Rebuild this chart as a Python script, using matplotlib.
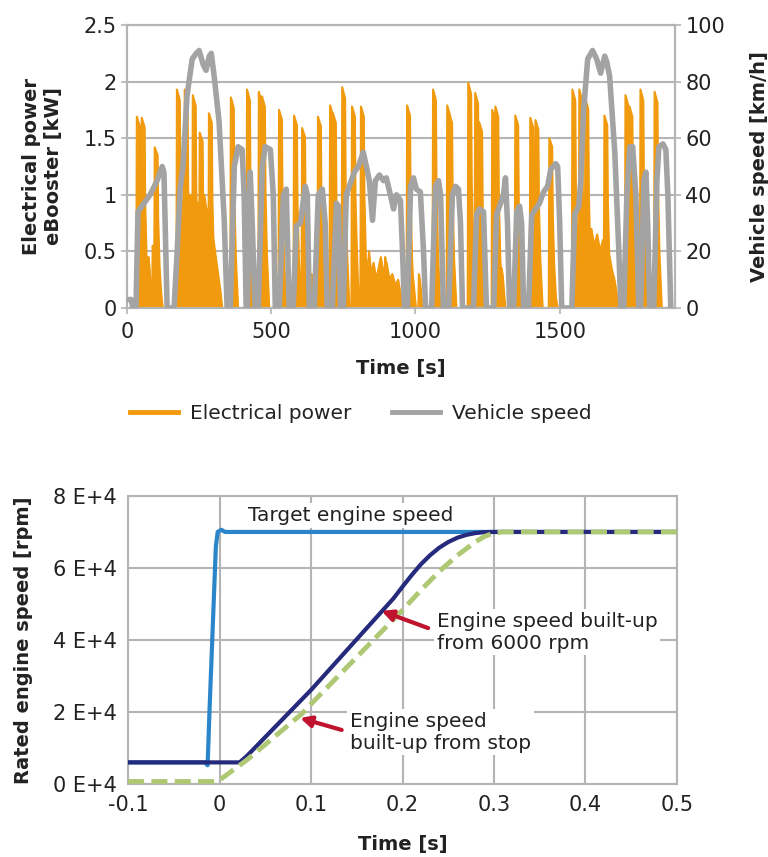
import numpy as np
import matplotlib
matplotlib.use("Agg")
import matplotlib.pyplot as plt
from matplotlib.lines import Line2D

plt.rcParams['font.family'] = ['DejaVu Sans']

# ---------------- data: top chart ----------------
speed_t = [0, 14, 21, 31, 38, 52, 80, 104, 115, 122, 128, 132, 139, 163, 174, 184, 194, 208, 226, 240,
           250, 264, 274, 285, 292, 302, 319, 337, 347, 358, 372, 385, 399, 406, 413, 417, 427, 434, 444,
           455, 469, 479, 497, 507, 514, 528, 542, 552, 562, 576, 587, 601, 618, 625, 632, 649, 663, 677,
           687, 694, 712, 726, 733, 740, 750, 760, 774, 788, 802, 819, 830, 840, 851, 861, 875, 889, 899,
           913, 924, 934, 948, 955, 962, 972, 983, 993, 1003, 1017, 1028, 1035, 1056, 1069, 1080, 1087,
           1097, 1115, 1128, 1139, 1149, 1156, 1163, 1174, 1201, 1212, 1222, 1236, 1246, 1271, 1281, 1295,
           1305, 1312, 1319, 1326, 1340, 1351, 1361, 1368, 1375, 1392, 1403, 1417, 1430, 1444, 1458, 1469,
           1486, 1493, 1500, 1507, 1542, 1552, 1566, 1573, 1583, 1597, 1614, 1628, 1642, 1656, 1663, 1673,
           1691, 1705, 1712, 1722, 1733, 1743, 1753, 1764, 1774, 1781, 1792, 1799, 1805, 1812, 1826, 1837,
           1844, 1858, 1868, 1875, 1885]
speed_v = [3, 3, 0, 0, 34, 36, 40, 45, 48, 50, 48, 30, 0, 0, 20, 42, 50, 75, 88, 90,
           91, 86, 84, 89, 90, 82, 66, 31, 0, 0, 50, 57, 56, 40, 0, 0, 48, 30, 0,
           0, 50, 57, 56, 40, 0, 0, 40, 42, 0, 0, 29, 30, 43, 40, 0, 0, 40, 42,
           30, 0, 0, 37, 36, 0, 0, 40, 44, 48, 50, 55, 50, 45, 31, 45, 47, 45, 46,
           40, 35, 40, 38, 20, 0, 0, 43, 46, 42, 41, 20, 0, 0, 43, 45, 40,
           0, 0, 40, 43, 42, 30, 0, 0, 0, 33, 35, 34, 0, 0, 33, 37,
           40, 46, 30, 0, 0, 34, 36, 30, 0, 0, 33, 35, 37, 41, 43, 49,
           51, 50, 30, 0, 0, 33, 36, 45, 70, 88, 91, 88, 83, 89, 87, 82,
           55, 20, 0, 0, 40, 57, 57, 40, 0, 0, 45, 48, 30, 0, 0, 45,
           57, 58, 56, 40, 0]

# main eBooster peaks
spike_t = [35, 52, 97, 174, 201, 229, 253, 285, 361, 417, 458, 469, 528, 580, 608, 663, 705, 715,
           747, 781, 812, 972, 1062, 1111, 1118, 1184, 1208, 1222, 1267, 1278, 1347, 1399, 1417,
           1465, 1545, 1569, 1590, 1656, 1729, 1743, 1781, 1830]
spike_p = [1.69, 1.68, 1.42, 1.93, 1.93, 1.88, 1.55, 1.72, 1.86, 1.93, 1.91, 1.87, 1.75, 1.70, 1.59,
           1.69, 1.79, 1.72, 1.95, 1.78, 1.78, 1.79, 1.93, 1.79, 1.72, 1.99, 1.90, 1.64, 1.75, 1.78,
           1.70, 1.68, 1.66, 1.50, 1.93, 1.93, 1.85, 1.70, 1.88, 1.78, 1.93, 1.91]

# smaller peaks
minor_t = [75, 90, 112, 420, 470, 540, 612, 640, 668, 720, 792, 815, 840, 896, 990, 1013, 1068,
           1120, 1230, 1283, 1300, 1352, 1405, 1425, 1470, 1482, 1660, 1735, 1748, 1785, 1835]
minor_p = [0.45, 0.55, 0.3, 0.5, 0.6, 0.4, 0.35, 0.3, 0.45, 0.5, 0.84, 0.6, 0.5, 0.45, 0.3, 0.3, 0.4,
           0.35, 0.3, 0.4, 0.35, 0.3, 0.7, 0.5, 0.35, 0.15, 0.45, 0.6, 0.5, 0.45, 0.4]

# low-level power during longer high-speed stretches
base_t = [0, 178, 182, 186, 192, 198, 205, 212, 220, 228, 236, 244, 252, 260, 268, 276, 285, 292,
          300, 308, 316, 324, 330, 825, 830, 838, 846, 855, 864, 872, 880, 890, 900, 910, 920, 930,
          940, 950, 958, 1548, 1552, 1556, 1562, 1570, 1578, 1586, 1594, 1602, 1610, 1620, 1630,
          1640, 1650, 1660, 1670, 1680, 1690, 1700, 1705, 1900]
base_p = [0, 0, 0.6, 1.0, 0.8, 1.1, 0.9, 0.7, 1.0, 0.85, 1.05, 0.9, 0.95, 0.8, 1.0, 0.85, 0.9, 0.7,
          0.6, 0.45, 0.3, 0.15, 0, 0, 0.3, 0.45, 0.3, 0.4, 0.25, 0.35, 0.45, 0.3, 0.4, 0.25, 0.3, 0.2,
          0.25, 0.1, 0, 0, 0.5, 0.6, 0.7, 0.55, 0.75, 1.0, 0.9, 0.6, 0.7, 0.55, 0.65,
          0.5, 0.6, 0.45, 0.5, 0.35, 0.25, 0.1, 0, 0]

# ---------------- data: bottom chart ----------------
target_t = [-0.1, -0.016, -0.013, -0.011, -0.004, -0.002, 0.002, 0.006, 0.5]
target_v = [6000, 6000, 5200, 20000, 66000, 70000, 70600, 70000, 70000]

from6000_t = [-0.1, 0.022, 0.03, 0.1, 0.19, 0.20, 0.21, 0.22, 0.23, 0.24, 0.25, 0.26, 0.27, 0.28,
              0.29, 0.30, 0.5]
from6000_v = [6000, 6000, 7800, 26100, 51500, 54800, 58000, 61000, 63500, 65600, 67200, 68400, 69200,
              69700, 69950, 70000, 70000]

fromstop_t = [-0.1, -0.002, 0.015, 0.03, 0.09, 0.1, 0.2, 0.22, 0.24, 0.26, 0.28, 0.29, 0.30, 0.31, 0.5]
fromstop_v = [700, 700, 3900, 6700, 19500, 22200, 48300, 53800, 59000, 63500, 67300, 68800, 69700,
              70000, 70000]

# ---------------- styles ----------------
ORANGE = '#f29a0e'
GRAY = '#a3a3a3'
GRID = '#b4b4b4'
TXT = '#222222'
TICK_FS = 15
LAB_FS = 14

fig = plt.figure(figsize=(7.68, 8.57), dpi=100)

# ---------------- top chart ----------------
ax1 = fig.add_axes([0.1654, 0.6406, 0.7136, 0.3302])
t_grid = np.arange(0, 1900, 1.0)
power = np.interp(t_grid, base_t, base_p)
for ts, ps in zip(spike_t, spike_p):
    sh_t = ts + np.array([-3, -1, 9, 11, 16, 24])
    sh_p = ps * np.array([0, 1, 0.95, 0.55, 0.25, 0])
    power = np.maximum(power, np.interp(t_grid, sh_t, sh_p, left=0, right=0))
for ts, ps in zip(minor_t, minor_p):
    sh_t = ts + np.array([-3, -1, 3, 8, 12])
    sh_p = ps * np.array([0, 1, 0.8, 0.3, 0])
    power = np.maximum(power, np.interp(t_grid, sh_t, sh_p, left=0, right=0))
ax1.fill_between(t_grid, power, 0, color=ORANGE, lw=0, zorder=2)
ax1.plot(t_grid, power, color=ORANGE, lw=1.5, zorder=2)
ax1.set_xlim(0, 1900)
ax1.set_ylim(0, 2.5)
ax1.set_yticks([0, 0.5, 1, 1.5, 2, 2.5])
ax1.set_yticklabels(['0', '0.5', '1', '1.5', '2', '2.5'])
ax1.set_xticks([0, 500, 1000, 1500])
ax1.yaxis.grid(True, color=GRID, lw=1.5, zorder=0)
ax1.set_axisbelow(True)
for s in ax1.spines.values():
    s.set_color(GRID)
    s.set_linewidth(1.5)
ax1.tick_params(colors=GRID, labelcolor=TXT, labelsize=TICK_FS, length=4, width=1.2)
ax1.tick_params(axis='x', pad=6)
ax1.set_xlabel('Time [s]', fontsize=LAB_FS, fontweight='bold', color=TXT, labelpad=12)
ax1.set_ylabel('Electrical power\neBooster [kW]', fontsize=LAB_FS, fontweight='bold', color=TXT,
               labelpad=15)

ax2 = ax1.twinx()
ax2.plot(speed_t, speed_v, color=GRAY, lw=4, solid_joinstyle='round', solid_capstyle='round', zorder=3)
ax2.set_ylim(0, 100)
ax2.set_yticks([0, 20, 40, 60, 80, 100])
for s in ax2.spines.values():
    s.set_color(GRID)
    s.set_linewidth(1.5)
ax2.tick_params(colors=GRID, labelcolor=TXT, labelsize=TICK_FS, length=4, width=1.2)
ax2.set_ylabel('Vehicle speed [km/h]', fontsize=LAB_FS, fontweight='bold', color=TXT, labelpad=18)

handles = [Line2D([], [], color=ORANGE, lw=3.5), Line2D([], [], color=GRAY, lw=3.5)]
fig.legend(handles, ['Electrical power', 'Vehicle speed'], loc='center', ncol=2,
           bbox_to_anchor=(0.47, 0.518), frameon=False, fontsize=14.5,
           handlelength=2.4, handletextpad=0.6, columnspacing=2.0, labelcolor=TXT)

# ---------------- bottom chart ----------------
ax3 = fig.add_axes([0.1667, 0.0852, 0.7148, 0.3361])
ax3.plot(target_t, target_v, color='#2a86c8', lw=3, zorder=3)
ax3.plot(from6000_t, from6000_v, color='#262a7c', lw=3, zorder=4)
ax3.plot(fromstop_t, fromstop_v, color='#afc874', lw=3.5, ls=(0, (3.3, 1.5)), zorder=5)
ax3.set_xlim(-0.1, 0.5)
ax3.set_ylim(0, 80000)
ax3.set_xticks([-0.1, 0, 0.1, 0.2, 0.3, 0.4, 0.5])
ax3.set_xticklabels(['-0.1', '0', '0.1', '0.2', '0.3', '0.4', '0.5'])
ax3.set_yticks([0, 20000, 40000, 60000, 80000])
ax3.set_yticklabels(['0 E+4', '2 E+4', '4 E+4', '6 E+4', '8 E+4'])
ax3.grid(True, color=GRID, lw=1.5, zorder=0)
ax3.set_axisbelow(True)
for s in ax3.spines.values():
    s.set_color(GRID)
    s.set_linewidth(1.5)
ax3.tick_params(colors=GRID, labelcolor=TXT, labelsize=TICK_FS, length=0, pad=8)
ax3.set_xlabel('Time [s]', fontsize=LAB_FS, fontweight='bold', color=TXT, labelpad=14)
ax3.set_ylabel('Rated engine speed [rpm]', fontsize=LAB_FS, fontweight='bold', color=TXT, labelpad=14)

box = dict(facecolor='white', edgecolor='none', pad=2)
ax3.text(0.031, 74500, 'Target engine speed', fontsize=14.5, color=TXT, ha='left', va='center',
         bbox=box, zorder=6)
ax3.text(0.2374, 42200, 'Engine speed built-up\nfrom 6000 rpm', fontsize=14.5, color=TXT,
         ha='left', va='center', linespacing=1.2, bbox=box, zorder=6)
ax3.text(0.1426, 14400, 'Engine speed\nbuilt-up from stop', fontsize=14.5, color=TXT,
         ha='left', va='center', linespacing=1.2, bbox=box, zorder=6)
RED = '#c0132e'
ax3.annotate('', xy=(0.177, 48050), xytext=(0.228, 43300),
             arrowprops=dict(arrowstyle='-|>', color=RED, lw=3, mutation_scale=16,
                             shrinkA=0, shrinkB=0), zorder=7)
ax3.annotate('', xy=(0.088, 18330), xytext=(0.1335, 15000),
             arrowprops=dict(arrowstyle='-|>', color=RED, lw=3, mutation_scale=16,
                             shrinkA=0, shrinkB=0), zorder=7)

fig.savefig('out.png', dpi=100)
